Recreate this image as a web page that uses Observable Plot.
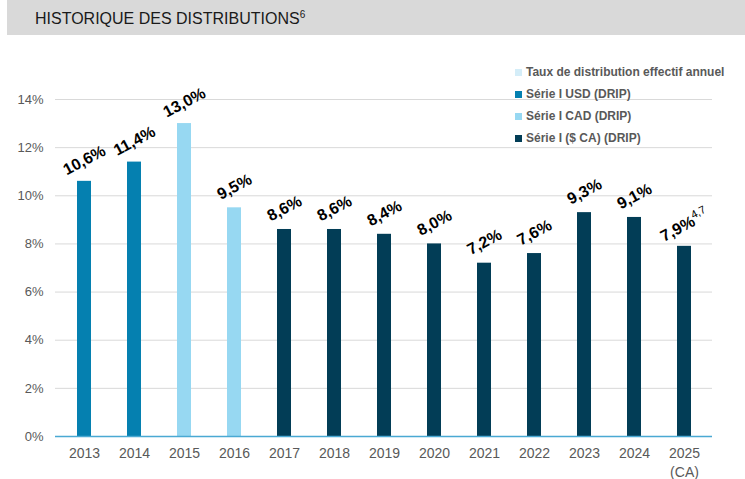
<!DOCTYPE html>
<html><head><meta charset="utf-8">
<script src="https://cdn.jsdelivr.net/npm/d3@7"></script>
<script src="https://cdn.jsdelivr.net/npm/@observablehq/plot@0.6"></script>
<style>
body{margin:0;background:#fff;font-family:"Liberation Sans",Arial,sans-serif;}
#wrap{position:relative;width:745px;height:479px;overflow:hidden;}
#title{position:absolute;left:7px;top:0;width:738px;height:35px;background:#d9d9d9;}
#title span{position:absolute;left:28px;top:10px;font-size:16px;color:#1a1a1a;}
#title sup{font-size:10px;vertical-align:6px;line-height:0;}
#chart{position:absolute;left:0;top:36px;}
#legend{position:absolute;left:515px;top:63px;font-size:12px;font-weight:bold;color:#595959;}
#legend div{height:22px;line-height:18px;white-space:nowrap;}
#legend i{display:inline-block;width:7px;height:7px;margin-right:4px;vertical-align:0px;}
</style></head>
<body><div id="wrap">
<div id="title"><span>HISTORIQUE DES DISTRIBUTIONS<sup>6</sup></span></div>
<div id="chart"></div>
<div id="legend"></div>
</div>
<script>
const years = ["2013","2014","2015","2016","2017","2018","2019","2020","2021","2022","2023","2024","2025"];
const yearLabels = ["2013","2014","2015","2016","2017","2018","2019","2020","2021","2022","2023","2024","2025\n(CA)"];
const values = [10.6, 11.4, 13.0, 9.5, 8.6, 8.6, 8.4, 8.0, 7.2, 7.6, 9.3, 9.1, 7.9];
const series = ["USD","USD","CAD","CAD","CA","CA","CA","CA","CA","CA","CA","CA","CA"];
const notes = ["","","","","","","","","","","","","4,7"];
const seriesKeys = ["Taux","USD","CAD","CA"];
const seriesNames = ["Taux de distribution effectif annuel","Série I USD (DRIP)","Série I CAD (DRIP)","Série I ($ CA) (DRIP)"];
const seriesColors = ["#d4edf8","#0580b0","#97d8f2","#023d56"];
const yTicks = [0,2,4,6,8,10,12,14];

const data = years.map((y,i)=>({year:y, value:values[i], series:series[i], note:notes[i], label:values[i].toFixed(1).replace(".",",")+"%"}));

const plot = Plot.plot({
  width:745, height:443,
  marginLeft:55, marginRight:33, marginTop:63, marginBottom:43,
  x:{domain:years, paddingInner:0.72, paddingOuter:0.36, label:null},
  y:{domain:[0,14], label:null},
  color:{domain:seriesKeys, range:seriesColors},
  style:{fontFamily:"'Liberation Sans', Arial, sans-serif", fontSize:"13px", color:"#595959"},
  marks:[
    Plot.ruleY(yTicks.filter(d=>d>0), {stroke:"#d9d9d9", strokeWidth:1}),
    Plot.barY(data, {x:"year", y:"value", fill:"series"}),
    Plot.ruleY([0], {stroke:"#4aa9d3", strokeWidth:1.5}),
    Plot.axisX({tickSize:0, tickPadding:9, fill:"#595959", fontSize:14, lineHeight:1.3, tickFormat:d=>yearLabels[years.indexOf(d)]}),
    Plot.axisY({ticks:yTicks, tickSize:0, tickPadding:12, fill:"#595959", fontSize:13, tickFormat:d=>d+"%"}),
    Plot.text(data, {x:"year", y:"value", text:"label", rotate:-28, dy:-21, fontSize:16, fontWeight:"bold", fill:"#000", className:"vlabel"})
  ]
});
document.getElementById("chart").appendChild(plot);

// superscript notes on value labels
d3.select(plot).selectAll("g.vlabel text").each(function(d,i){
  const idx = typeof d === "number" ? d : i;
  const n = notes[idx];
  if(n){
    d3.select(this).append("tspan").attr("font-size",11).attr("font-weight","normal").attr("dy","-0.6em").text(n);
  }
});

const lg = d3.select("#legend");
seriesNames.forEach((n,i)=>{
  const r = lg.append("div");
  r.append("i").style("background",seriesColors[i]);
  r.append("span").text(n);
});
</script>
</body></html>
